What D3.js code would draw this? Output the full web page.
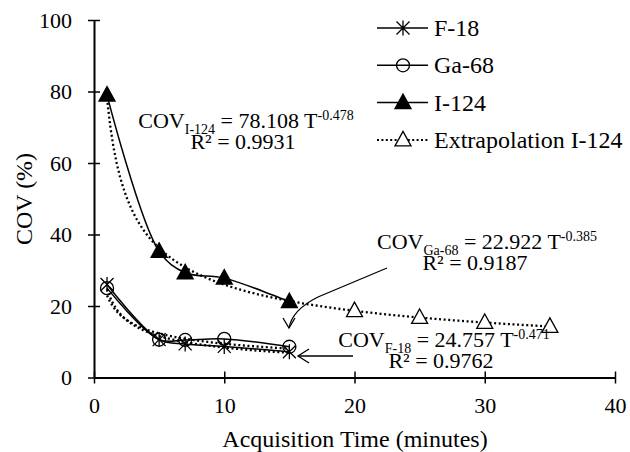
<!DOCTYPE html>
<html>
<head>
<meta charset="utf-8">
<script src="https://cdn.jsdelivr.net/npm/d3@7"></script>
<style>
  body { margin: 0; background: #fff; }
</style>
</head>
<body>
<svg id="chart"></svg>
<script>
// measured times (minutes)
const times = [1, 5, 7, 10, 15];
const f18 = [26.0, 10.6, 9.4, 8.7, 7.2];
const ga68 = [25.0, 10.6, 10.5, 10.8, 8.6];
const i124 = [79.0, 35.3, 29.3, 27.8, 21.2];

// extrapolated I-124 points
const extraTimes = [20, 25, 30, 35];
const extraI124 = [18.7, 16.8, 15.4, 14.3];

// power fit coefficients shown on chart: COV = a * T^b
const fits = [
  { name: 'F-18', a: 24.757, b: -0.471, tMax: 15 },
  { name: 'Ga-68', a: 22.922, b: -0.385, tMax: 15 },
  { name: 'I-124', a: 78.108, b: -0.478, tMax: 35 }
];

const xTicks = [0, 10, 20, 30, 40];
const yTicks = [0, 20, 40, 60, 80, 100];

const FONT = '"Liberation Serif", "Times New Roman", serif';
const FS = 22, BIG = 24, SMALL = 14;
const W = 630, H = 452;
const margin = { top: 20, right: 15, bottom: 74.5, left: 94 };
const width = W - margin.left - margin.right;
const height = H - margin.top - margin.bottom;

const svg = d3.select('#chart').attr('width', W).attr('height', H)
  .attr('font-family', FONT);
const g = svg.append('g').attr('transform', `translate(${margin.left},${margin.top})`);

const x = d3.scaleLinear().domain([0, 40]).range([0, width]);
const y = d3.scaleLinear().domain([0, 100]).range([height, 0]);

function txt(sel, size) {
  return sel.append('text').style('font-family', FONT).style('font-size', (size || FS) + 'px').attr('fill', '#000');
}

// axes (ticks cross the axis line)
const yAxisG = g.append('g').call(d3.axisLeft(y).tickValues(yTicks).tickSizeInner(6).tickSizeOuter(0).tickPadding(16));
const xAxisG = g.append('g').attr('transform', `translate(0,${height})`)
  .call(d3.axisBottom(x).tickValues(xTicks).tickSizeInner(6).tickSizeOuter(0).tickPadding(14));

[yAxisG, xAxisG].forEach(ax => {
  ax.attr('font-family', FONT).attr('font-size', FS);
  ax.select('.domain').attr('stroke', '#000').attr('stroke-width', 2);
  ax.selectAll('.tick line').attr('stroke', '#000').attr('stroke-width', 1.5);
  ax.selectAll('text').style('font-size', FS + 'px').style('font-family', FONT).attr('fill', '#000');
});
yAxisG.selectAll('.tick line').attr('x1', 6);
xAxisG.selectAll('.tick line').attr('y1', -6);

// axis titles
txt(svg, BIG).attr('transform', 'translate(32,199) rotate(-90)')
  .attr('text-anchor', 'middle').text('COV (%)');
txt(svg, BIG).attr('x', 355).attr('y', 447)
  .attr('text-anchor', 'middle').text('Acquisition Time (minutes)');

// trend lines (dotted) from the fitted power laws
const trendLine = d3.line().x(d => x(d[0])).y(d => y(d[1]));
fits.forEach(f => {
  const pts = d3.range(1, f.tMax + 0.001, 0.25).map(t => [t, f.a * Math.pow(t, f.b)]);
  g.append('path').attr('d', trendLine(pts))
    .attr('fill', 'none').attr('stroke', '#000').attr('stroke-width', 2.3)
    .attr('stroke-dasharray', '2,2.6');
});

// smoothed series lines
const smooth = d3.line().x(d => x(d[0])).y(d => y(d[1])).curve(d3.curveCatmullRom.alpha(0.5));
const series = [
  { name: 'F-18', vals: f18, marker: 'star' },
  { name: 'Ga-68', vals: ga68, marker: 'circle' },
  { name: 'I-124', vals: i124, marker: 'tri' }
];
series.forEach(s => {
  g.append('path').attr('d', smooth(times.map((t, i) => [t, s.vals[i]])))
    .attr('fill', 'none').attr('stroke', '#000').attr('stroke-width', 1.5);
});

function drawMarker(sel, type, cx, cy) {
  const m = sel.append('g').attr('transform', `translate(${cx},${cy})`);
  if (type === 'star') {
    const r = 6.5;
    m.append('path').attr('d', `M${-r},${-r}L${r},${r}M${-r},${r}L${r},${-r}M0,${-r - 1}L0,${r + 1}`)
      .attr('stroke', '#000').attr('stroke-width', 1.3).attr('fill', 'none');
  } else if (type === 'circle') {
    m.append('circle').attr('r', 6.5).attr('fill', 'none').attr('stroke', '#000').attr('stroke-width', 1.3);
  } else {
    const open = type === 'triOpen';
    m.append('path').attr('d', 'M0,-8.5L8,6L-8,6Z')
      .attr('fill', open ? '#fff' : '#000').attr('stroke', '#000').attr('stroke-width', 1.3);
  }
}

// extrapolated points
extraTimes.forEach((t, i) => drawMarker(g, 'triOpen', x(t), y(extraI124[i])));
// measured points
series.forEach(s => {
  times.forEach((t, i) => drawMarker(g, s.marker, x(t), y(s.vals[i])));
});

// equations
function equation(cx, cy, rx, sub, rest, exp, r2) {
  const t = txt(svg).attr('x', cx).attr('y', cy).attr('text-anchor', 'middle');
  t.append('tspan').text('COV');
  t.append('tspan').attr('dy', 6).style('font-size', SMALL + 'px').text(sub);
  t.append('tspan').attr('dy', -6).text(rest);
  t.append('tspan').attr('dy', -8).style('font-size', SMALL + 'px').text(exp);
  txt(svg).attr('x', rx).attr('y', cy + 21).attr('text-anchor', 'middle')
    .text('R² = ' + r2);
}
equation(246, 128, 243, 'I-124', ' = 78.108 T', '-0.478', '0.9931');
equation(487, 249, 475, 'Ga-68', ' = 22.922 T', '-0.385', '0.9187');
equation(444, 347, 441, 'F-18', ' = 24.757 T', '-0.471', '0.9762');

// arrows
const arrows = svg.append('g').attr('fill', 'none').attr('stroke', '#000').attr('stroke-width', 1.3);
arrows.append('path').attr('d', 'M387,268 L318,297 Q292,310 289,328');
arrows.append('path').attr('d', 'M283,318 L289,328 L295,318');
arrows.append('path').attr('d', 'M353,356 L298,356');
arrows.append('path').attr('d', 'M309,349 L298,356 L309,363');

// legend
const legendItems = [
  { name: 'F-18', marker: 'star', dotted: false },
  { name: 'Ga-68', marker: 'circle', dotted: false },
  { name: 'I-124', marker: 'tri', dotted: false },
  { name: 'Extrapolation I-124', marker: 'triOpen', dotted: true }
];
const lg = svg.append('g');
legendItems.forEach((d, i) => {
  const ly = 28 + i * 37.3;
  lg.append('line').attr('x1', 377).attr('x2', 428).attr('y1', ly).attr('y2', ly)
    .attr('stroke', '#000').attr('stroke-width', d.dotted ? 2 : 1.5)
    .attr('stroke-dasharray', d.dotted ? '2,2.4' : null);
  drawMarker(lg, d.marker, 403, ly);
  txt(lg, BIG).attr('x', 434).attr('y', ly + 8).text(d.name);
});
</script>
</body>
</html>
